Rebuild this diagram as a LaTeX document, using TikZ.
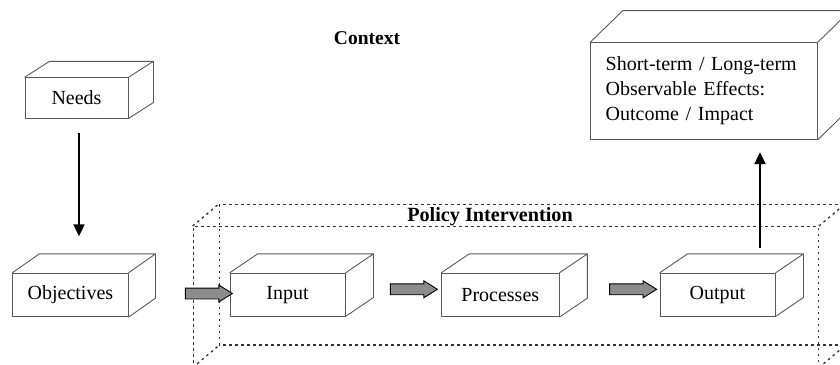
\documentclass[tikz,border=0pt]{standalone}
\usepackage{fontspec}
\setmainfont{Liberation Serif}
\usetikzlibrary{calc,arrows.meta,shapes.arrows}

% draws the top and right faces of a solid box behind the front face #1
\newcommand\boxdepth[3]{%
  \draw[edge] (#1.north west) -- ($(#1.north west)+(#2,#3)$)
    -- ($(#1.north east)+(#2,#3)$) -- (#1.north east)
    ($(#1.north east)+(#2,#3)$) -- ($(#1.south east)+(#2,#3)$) -- (#1.south east);}

\tikzset{
  edge/.style={draw=black!65, line width=0.9pt, line join=round},
  solidbox/.style={edge, fill=white, inner sep=0pt,
    font=\fontsize{20}{25}\selectfont},
  frame/.style={draw=black!80, line width=1.3pt, dash pattern=on 2.5pt off 3.5pt},
  fatarrow/.style={shape=single arrow, draw=black, line width=0.9pt, fill=black!45,
    inner sep=5pt, single arrow head extend=3pt, single arrow tip angle=64,
    minimum height=47pt},
  flow/.style={draw=black, line width=2pt, -{Triangle[length=12pt,width=11pt]}},
  heading/.style={font=\fontsize{19.5}{23}\selectfont\bfseries}
}

\begin{document}
\begin{tikzpicture}[x=1pt, y=-1pt]
\useasboundingbox (0,0) rectangle (840,364);
\clip (0,0) rectangle (840,364);

% dashed cuboid around the intervention: back face, depth edges, front face
\draw[frame] (219.3,204.7) rectangle (844.3,345);
\node[frame, minimum width=625pt, minimum height=140.3pt, inner sep=0pt]
  (policy) at (505.8,296.85) {};
\draw[frame] (policy.north west) -- ++(26,-22)
             (policy.north east) -- ++(26,-22)
             (policy.south west) -- ++(26,-22)
             (policy.south east) -- ++(26,-22);
\node[heading, font=\fontsize{20.2}{24}\selectfont\bfseries] (policylabel) at (490,216.5) {Policy Intervention};

\node[heading] (context) at (367,38) {Context};

% solid boxes
\node[solidbox, minimum width=103pt, minimum height=40.3pt] (needs) at (76.5,97.9) {Needs};
\boxdepth{needs}{25}{-16}

\node[solidbox, minimum width=115.3pt, minimum height=43.4pt] (objectives) at (70.4,295) {Objectives};
\boxdepth{objectives}{27}{-19}

\node[solidbox, minimum width=115pt, minimum height=42.7pt] (input) at (287.5,294.7) {Input};
\boxdepth{input}{28}{-19}

\node[solidbox, minimum width=117.3pt, minimum height=43.4pt] (processes) at (500.3,295) {Processes};
\boxdepth{processes}{28}{-19}

\node[solidbox, minimum width=115pt, minimum height=42.7pt] (output) at (717.5,294.7) {Output};
\boxdepth{output}{28}{-19}

\node[solidbox, text width=196.6pt, inner xsep=15pt, minimum height=96.6pt, align=left]
  (outcome) at (704,91) {Short-term / Long-term\\Observable Effects:\\Outcome / Impact};
\boxdepth{outcome}{32.6}{-31.7}

% connectors
\draw[flow] ($(needs.south)+(2.5,14)$) -- ($(objectives.north)+(8.6,-36.5)$);
\draw[flow] ($(output.north)+(42.5,-25)$) -- ($(outcome.south)+(56,12.4)$);

\node[fatarrow] (step1) at (204.5,293.5) {};
\node[fatarrow] (step2) at (409.5,289.3) {};
\node[fatarrow] (step3) at (628.8,289.3) {};
\end{tikzpicture}
\end{document}
